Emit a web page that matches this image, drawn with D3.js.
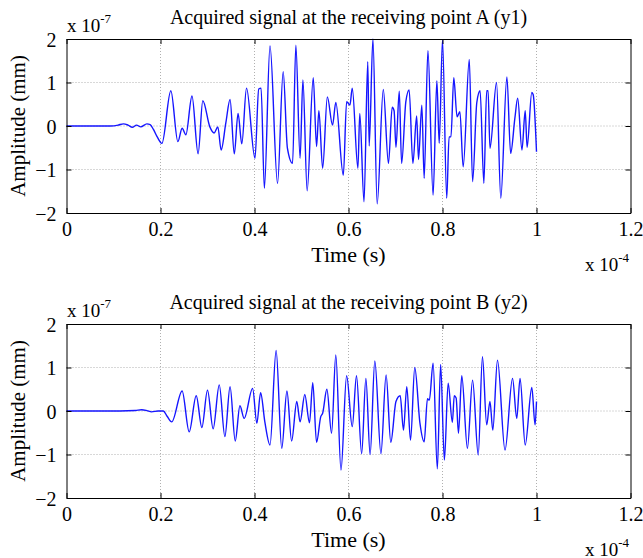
<!DOCTYPE html>
<html>
<head>
<meta charset="utf-8">
<script src="https://cdn.jsdelivr.net/npm/d3@7"></script>
<style>
  body { margin: 0; background: #fff; }
  text { font-family: "Liberation Serif", "Times New Roman", serif; fill: #000; }
</style>
</head>
<body>
<div class="chart"></div>
<script>
// time in units of 1e-4 s, amplitude in units of 1e-7 mm
const timeA = [0, 0.093, 0.110, 0.121, 0.131, 0.140, 0.149, 0.158, 0.171, 0.178, 0.185, 0.193, 0.203,
  0.222, 0.237, 0.246, 0.254, 0.267, 0.280, 0.290, 0.305, 0.314, 0.322, 0.329, 0.339, 0.348, 0.357,
  0.365, 0.373, 0.383, 0.401, 0.409, 0.414, 0.421, 0.433, 0.449, 0.461, 0.470, 0.481, 0.488, 0.497,
  0.503, 0.512, 0.525, 0.532, 0.537, 0.545, 0.555, 0.566, 0.573, 0.589, 0.596, 0.603, 0.608, 0.620,
  0.624, 0.633, 0.641, 0.644, 0.652, 0.661, 0.674, 0.685, 0.693, 0.697, 0.701, 0.708, 0.713, 0.722,
  0.729, 0.737, 0.745, 0.749, 0.756, 0.761, 0.769, 0.780, 0.788, 0.793, 0.800, 0.809, 0.814, 0.818,
  0.824, 0.831, 0.837, 0.844, 0.857, 0.864, 0.873, 0.880, 0.888, 0.894, 0.897, 0.901, 0.915, 0.924,
  0.937, 0.945, 0.954, 0.960, 0.969, 0.976, 0.980, 0.990, 0.993, 1.000];
const ampA = [0, 0, 0.02, 0.05, 0.02, -0.03, 0.02, -0.02, 0.05, 0.03, -0.08, -0.25, -0.40,
  0.81, -0.36, -0.05, -0.20, 0.69, -0.64, 0.58, -0.02, -0.16, -0.02, -0.55, 0.07, 0.61, -0.64,
  0.29, -0.41, 0.87, -0.74, 0.85, 0.87, -1.43, 1.84, -1.32, 1.25, -0.51, -0.86, 1.86, -0.74,
  1.06, -1.49, 1.11, -0.47, 0.35, -0.97, 0.67, 0.02, 0.54, -1.13, 0.56, 0.48, 0.87, -0.97,
  0.29, -1.74, 1.48, -0.46, 2.00, -1.79, 0.84, -0.86, 0.43, 0.35, -0.49, 0.80, -0.86, 0.56,
  0.83, -0.86, 0.23, -0.77, 0.48, -1.20, 1.73, -1.59, 1.04, -0.40, 1.98, -1.66, -0.25, -0.25,
  1.11, 0.21, 0.33, -0.94, 1.53, -1.28, 0.54, 0.81, -1.32, 0.81, 0.81, -0.51, 1.00, -1.66,
  1.13, -0.63, 0.18, 0.64, -0.55, 0.35, -0.49, 0.77, 0.72, -0.59];

const timeB = [0, 0.114, 0.146, 0.160, 0.171, 0.181, 0.195, 0.206, 0.214, 0.224, 0.246, 0.261,
  0.276, 0.288, 0.300, 0.312, 0.325, 0.337, 0.348, 0.359, 0.369, 0.378, 0.396, 0.405, 0.413, 0.422,
  0.433, 0.446, 0.458, 0.469, 0.479, 0.490, 0.497, 0.507, 0.517, 0.524, 0.532, 0.541, 0.545, 0.554,
  0.564, 0.573, 0.584, 0.596, 0.608, 0.617, 0.628, 0.637, 0.646, 0.656, 0.669, 0.680, 0.690, 0.701,
  0.710, 0.717, 0.724, 0.732, 0.741, 0.752, 0.761, 0.768, 0.772, 0.780, 0.789, 0.796, 0.804, 0.812,
  0.821, 0.825, 0.829, 0.834, 0.841, 0.853, 0.864, 0.876, 0.885, 0.894, 0.901, 0.907, 0.917, 0.933,
  0.949, 0.958, 0.965, 0.976, 0.990, 0.997, 1.000];
const ampB = [0, 0, 0.01, 0.03, 0.01, -0.02, 0, 0, -0.12, -0.25, 0.46, -0.48,
  0.35, -0.38, 0.48, -0.41, 0.60, -0.59, 0.56, -0.69, 0.12, -0.17, 0.52, -0.28, 0.42, -0.25,
  -0.78, 1.39, -0.86, 0.46, -0.69, 0.22, -0.25, 0.38, -0.27, 0.65, -0.72, -0.13, -0.05, 0.50,
  -0.51, 1.29, -1.36, 0.81, -0.36, 0.81, -0.98, 0.75, -1.00, 1.15, -0.98, 0.83, -0.72, 0.22,
  0.35, -0.44, 0.56, -0.67, 1.00, -0.28, -0.71, 0.28, 0.25, 1.10, -1.33, 1.07, -1.13, 0.64,
  -0.26, 0.35, 0.30, -0.51, 0.81, -0.86, 0.71, -1.01, 1.25, -0.32, 0.22, -0.44, 1.17, -0.90,
  0.75, -0.17, 0.75, -0.78, 0.54, -0.32, 0.22];

const xTicks = [0, 0.2, 0.4, 0.6, 0.8, 1, 1.2];
const yTicks = [-2, -1, 0, 1, 2];

const panels = [
  { title: "Acquired signal at the receiving point A (y1)", t: timeA, v: ampA, top: 39 },
  { title: "Acquired signal at the receiving point B (y2)", t: timeB, v: ampB, top: 324 }
];

const W = 643, H = 558;
const left = 66.5, right = 630.5, plotH = 174;

const svg = d3.select(".chart").append("svg")
  .attr("width", W).attr("height", H);

const x = d3.scaleLinear().domain([0, 1.2]).range([left, right]);

panels.forEach(p => {
  const y = d3.scaleLinear().domain([-2, 2]).range([p.top + plotH, p.top]);
  const g = svg.append("g");

  // grid
  g.selectAll(".vgrid").data(xTicks.slice(1, -1)).enter().append("line")
    .attr("x1", d => x(d)).attr("x2", d => x(d))
    .attr("y1", p.top).attr("y2", p.top + plotH)
    .attr("stroke", "#b0b0b0").attr("stroke-dasharray", "1,2");
  g.selectAll(".hgrid").data(yTicks.slice(1, -1)).enter().append("line")
    .attr("x1", left).attr("x2", right)
    .attr("y1", d => y(d)).attr("y2", d => y(d))
    .attr("stroke", "#b0b0b0").attr("stroke-dasharray", "1,2");

  // signal
  const line = d3.line()
    .x((d, i) => x(p.t[i]))
    .y(d => y(d))
    .curve(d3.curveMonotoneX);
  g.append("path").datum(p.v)
    .attr("d", line)
    .attr("fill", "none")
    .attr("stroke", "#1515ff")
    .attr("stroke-width", 1.4);

  // axes with inward ticks
  const bottom = d3.axisBottom(x).tickValues(xTicks).tickSizeInner(-5).tickSizeOuter(0).tickPadding(9)
    .tickFormat(d => d3.format("~g")(d));
  const top = d3.axisTop(x).tickValues(xTicks).tickSizeInner(-5).tickSizeOuter(0).tickFormat("");
  const leftAx = d3.axisLeft(y).tickValues(yTicks).tickSizeInner(-5).tickSizeOuter(0).tickPadding(10)
    .tickFormat(d3.format("d"));
  const rightAx = d3.axisRight(y).tickValues(yTicks).tickSizeInner(-5).tickSizeOuter(0).tickFormat("");

  const axB = g.append("g").attr("transform", `translate(0,${p.top + plotH})`).call(bottom);
  const axT = g.append("g").attr("transform", `translate(0,${p.top})`).call(top);
  const axL = g.append("g").attr("transform", `translate(${left},0)`).call(leftAx);
  const axR = g.append("g").attr("transform", `translate(${right},0)`).call(rightAx);
  [axB, axT, axL, axR].forEach(a => {
    a.select(".domain").attr("stroke", "#000").attr("stroke-width", 1);
    a.selectAll(".tick line").attr("stroke", "#000");
    a.selectAll("text").style("font-family", "Liberation Serif").style("font-size", "20px").attr("fill", "#000");
  });
  axL.selectAll("text").attr("dy", "0.35em");

  // title
  g.append("text").attr("x", (left + right) / 2).attr("y", p.top - 15)
    .attr("text-anchor", "middle").style("font-size", "20px").text(p.title);

  // x label
  g.append("text").attr("x", x(0.6)).attr("y", p.top + plotH + 49)
    .attr("text-anchor", "middle").style("font-size", "22px").text("Time (s)");

  // y label
  g.append("text")
    .attr("transform", `translate(25,${y(0)}) rotate(-90)`)
    .attr("text-anchor", "middle").style("font-size", "21px").text("Amplitude (mm)");

  // exponent labels
  const e7 = g.append("text").attr("x", 67).attr("y", p.top - 7).style("font-size", "19px");
  e7.append("tspan").text("x 10");
  e7.append("tspan").attr("dy", -9).style("font-size", "13px").text("-7");

  const e4 = g.append("text").attr("x", 585).attr("y", p.top + plotH + 58).style("font-size", "19px");
  e4.append("tspan").text("x 10");
  e4.append("tspan").attr("dy", -9).style("font-size", "13px").text("-4");
});
</script>
</body>
</html>
